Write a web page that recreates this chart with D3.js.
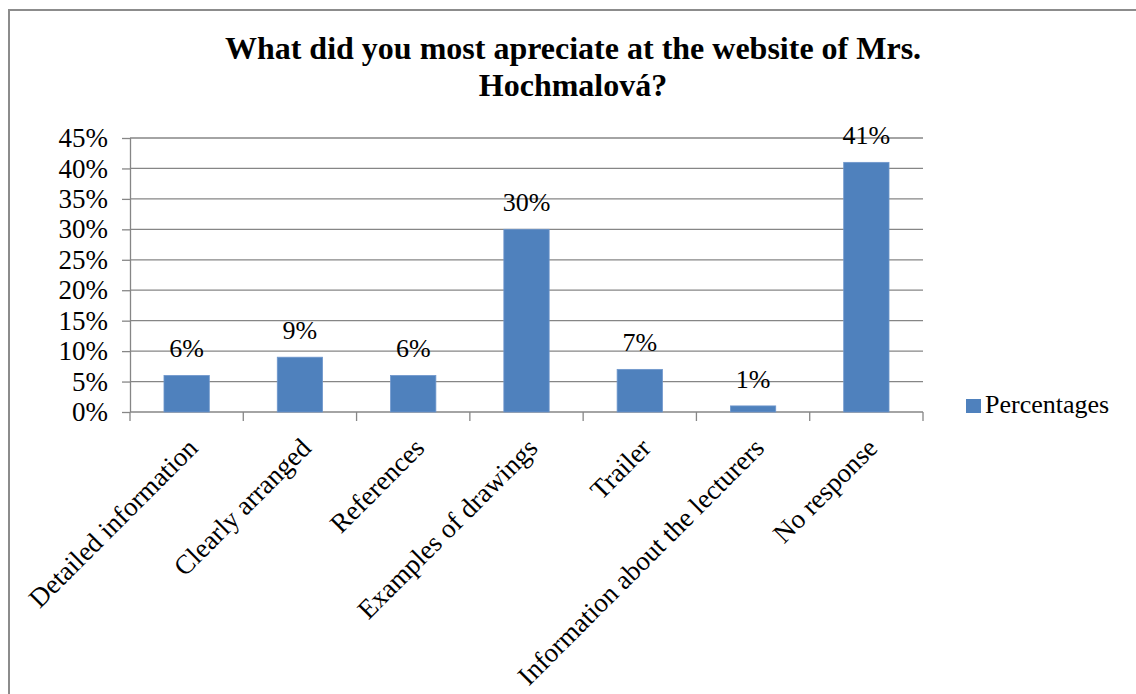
<!DOCTYPE html>
<html>
<head>
<meta charset="utf-8">
<script src="https://cdn.jsdelivr.net/npm/d3@7"></script>
<style>
  html, body { margin: 0; padding: 0; background: #fff; }
  svg { display: block; }
  text { font-family: "Liberation Serif", "Times New Roman", serif; fill: #000; }
</style>
</head>
<body>
<svg id="chart" width="1136" height="694"></svg>
<script>
// Survey answers and their shares (percent)
const categories = [
  "Detailed information",
  "Clearly arranged",
  "References",
  "Examples of drawings",
  "Trailer",
  "Information about the lecturers",
  "No response"
];
const percentages = [6, 9, 6, 30, 7, 1, 41];
const yTicks = [0, 5, 10, 15, 20, 25, 30, 35, 40, 45];
const seriesName = "Percentages";
const titleLines = ["What did you most apreciate at the website of Mrs.", "Hochmalová?"];

const W = 1136, H = 694;
const plot = { left: 130, right: 923, top: 138, bottom: 412 };
const barColor = "#4F81BD";
const gridColor = "#868686";

const svg = d3.select("#chart");

// chart frame
svg.append("rect")
  .attr("x", 9).attr("y", 10)
  .attr("width", W + 20).attr("height", H + 20)
  .attr("fill", "#fff")
  .attr("stroke", "#8c8c8c")
  .attr("stroke-width", 2);

// title
svg.append("g").selectAll("text")
  .data(titleLines)
  .join("text")
  .attr("x", 573)
  .attr("y", (d, i) => 59 + i * 37)
  .attr("text-anchor", "middle")
  .attr("font-size", 32)
  .attr("font-weight", "bold")
  .text(d => d);

const x = d3.scaleBand()
  .domain(categories)
  .range([plot.left, plot.right])
  .paddingInner(0.6)
  .paddingOuter(0.3);

const y = d3.scaleLinear()
  .domain([0, 45])
  .range([plot.bottom, plot.top]);

// y axis with percent ticks
const yAxis = d3.axisLeft(y)
  .tickValues(yTicks)
  .tickFormat(d => d + "%")
  .tickSize(8)
  .tickPadding(14);

const gy = svg.append("g")
  .attr("transform", `translate(${plot.left},0)`)
  .call(yAxis);
gy.select(".domain").attr("stroke", gridColor).attr("stroke-width", 1.3)
  .attr("d", `M0.5,${plot.top}V${plot.bottom}`);
gy.selectAll(".tick line").attr("stroke", gridColor).attr("stroke-width", 1.3);
gy.selectAll(".tick text")
  .attr("font-size", 27)
  .attr("font-family", "'Liberation Serif', 'Times New Roman', serif")
  .attr("fill", "#000");

// horizontal gridlines
svg.append("g").selectAll("line")
  .data(yTicks)
  .join("line")
  .attr("x1", plot.left).attr("x2", plot.right)
  .attr("y1", d => y(d)).attr("y2", d => y(d))
  .attr("stroke", gridColor)
  .attr("stroke-width", 1.3);

// category axis: tick marks at category boundaries
const step = (plot.right - plot.left) / categories.length;
const bounds = d3.range(categories.length + 1).map(i => plot.left + i * step);
svg.append("g").selectAll("line")
  .data(bounds)
  .join("line")
  .attr("x1", d => d).attr("x2", d => d)
  .attr("y1", plot.bottom).attr("y2", plot.bottom + 9)
  .attr("stroke", gridColor)
  .attr("stroke-width", 1.3);

// bars
svg.append("g").selectAll("rect")
  .data(percentages)
  .join("rect")
  .attr("x", (d, i) => x(categories[i]))
  .attr("y", d => y(d))
  .attr("width", x.bandwidth())
  .attr("height", d => y(0) - y(d))
  .attr("fill", barColor)
  .attr("stroke", "#6f97cc")
  .attr("stroke-width", 0.8);

// value labels
svg.append("g").selectAll("text")
  .data(percentages)
  .join("text")
  .attr("x", (d, i) => x(categories[i]) + x.bandwidth() / 2)
  .attr("y", d => y(d) - 18)
  .attr("text-anchor", "middle")
  .attr("font-size", 26)
  .text(d => d + "%");

// rotated category labels
svg.append("g").selectAll("text")
  .data(categories)
  .join("text")
  .attr("transform", d => `translate(${x(d) + x.bandwidth() / 2 + 6},${plot.bottom + 31}) rotate(-45)`)
  .attr("text-anchor", "end")
  .attr("dy", "0.35em")
  .attr("font-size", 27)
  .text(d => d);

// legend
const legend = svg.append("g");
legend.append("rect")
  .attr("x", 966).attr("y", 399)
  .attr("width", 15).attr("height", 14)
  .attr("fill", barColor);
legend.append("text")
  .attr("x", 985).attr("y", 413)
  .attr("font-size", 26)
  .text(seriesName);
</script>
</body>
</html>
